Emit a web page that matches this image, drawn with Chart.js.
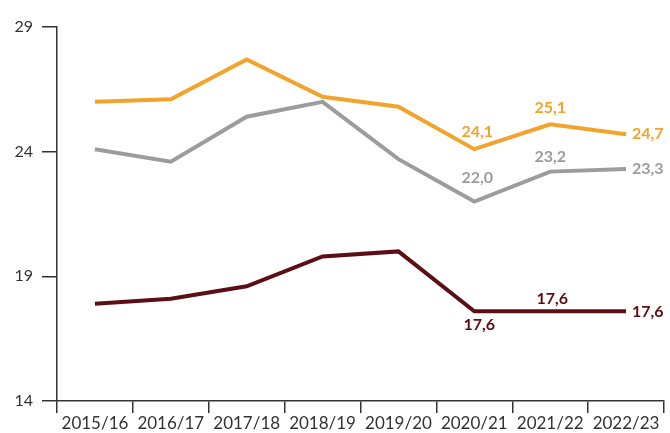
<!DOCTYPE html>
<html>
<head>
<meta charset="utf-8">
<script src="https://cdn.jsdelivr.net/npm/chart.js@4"></script>
<style>
  html, body { margin: 0; padding: 0; background: #fff; }
  #wrap { width: 670px; height: 433px; position: relative; }
</style>
</head>
<body>
<div id="wrap"><canvas id="chart"></canvas></div>
<script>
// School years on the x axis
const years = ['2015/16', '2016/17', '2017/18', '2018/19', '2019/20', '2020/21', '2021/22', '2022/23'];

// Series values
const orangeValues = [26.0, 26.1, 27.7, 26.2, 25.8, 24.1, 25.1, 24.7];
const greyValues = [24.1, 23.6, 25.4, 26.0, 23.7, 22.0, 23.2, 23.3];
const darkRedValues = [17.9, 18.1, 18.6, 19.8, 20.0, 17.6, 17.6, 17.6];

// y axis ticks
const yTicks = [14, 19, 24, 29];

const ORANGE = '#f2a32b';
const GREY = '#9c9c9f';
const DARK_RED = '#5b0f15';
const AXIS = '#333333';

// where each value label sits relative to its point (only the last three years are labelled)
const labelPlacement = [
  { 5: [3, -17, 'center'], 6: [0, -16, 'center'], 7: [6, 0, 'left'] },
  { 5: [3, -24, 'center'], 6: [0, -15, 'center'], 7: [6, 0, 'left'] },
  { 5: [5, 14, 'center'], 6: [2, -12, 'center'], 7: [6, 1, 'left'] }
];

const valueLabels = {
  id: 'valueLabels',
  afterDatasetsDraw(chart) {
    const ctx = chart.ctx;
    ctx.save();
    ctx.font = 'bold 16px Lato';
    ctx.textBaseline = 'middle';
    chart.data.datasets.forEach((ds, i) => {
      const meta = chart.getDatasetMeta(i);
      const place = labelPlacement[i];
      Object.keys(place).forEach(k => {
        const pt = meta.data[k];
        const [dx, dy, align] = place[k];
        ctx.fillStyle = ds.borderColor;
        ctx.textAlign = align;
        ctx.fillText(ds.data[k].toFixed(1).replace('.', ','), pt.x + dx, pt.y + dy);
      });
    });
    ctx.restore();
  }
};

const lineStyle = {
  borderWidth: 4,
  pointRadius: 0,
  pointHoverRadius: 0,
  tension: 0,
  borderCapStyle: 'butt',
  borderJoinStyle: 'miter',
  fill: false
};

new Chart(document.getElementById('chart'), {
  type: 'line',
  data: {
    labels: years,
    datasets: [
      { label: 'Serie 1', data: orangeValues, borderColor: ORANGE, ...lineStyle },
      { label: 'Serie 2', data: greyValues, borderColor: GREY, ...lineStyle },
      { label: 'Serie 3', data: darkRedValues, borderColor: DARK_RED, ...lineStyle }
    ]
  },
  plugins: [valueLabels],
  options: {
    responsive: true,
    maintainAspectRatio: false,
    animation: false,
    layout: {
      padding: { top: 27, right: 6, left: 0, bottom: 0 }
    },
    plugins: {
      legend: { display: false },
      tooltip: { enabled: false }
    },
    scales: {
      x: {
        offset: true,
        afterFit: (scale) => { scale.height = 32; },
        border: { color: AXIS, width: 1.5 },
        grid: {
          offset: true,
          drawOnChartArea: false,
          drawTicks: true,
          tickLength: 12,
          color: AXIS,
          lineWidth: 1.5
        },
        ticks: {
          color: AXIS,
          padding: 0,
          maxRotation: 0,
          autoSkip: false,
          font: { family: 'Lato', size: 17 }
        }
      },
      y: {
        min: 14,
        max: 29,
        afterFit: (scale) => { scale.width = 57; },
        afterBuildTicks: (scale) => { scale.ticks = yTicks.map(v => ({ value: v })); },
        border: { color: AXIS, width: 1.5 },
        grid: {
          drawOnChartArea: false,
          drawTicks: true,
          tickLength: 15,
          color: AXIS,
          lineWidth: 1.5
        },
        ticks: {
          color: AXIS,
          padding: 9,
          font: { family: 'Lato', size: 16 }
        }
      }
    }
  }
});
</script>
</body>
</html>
